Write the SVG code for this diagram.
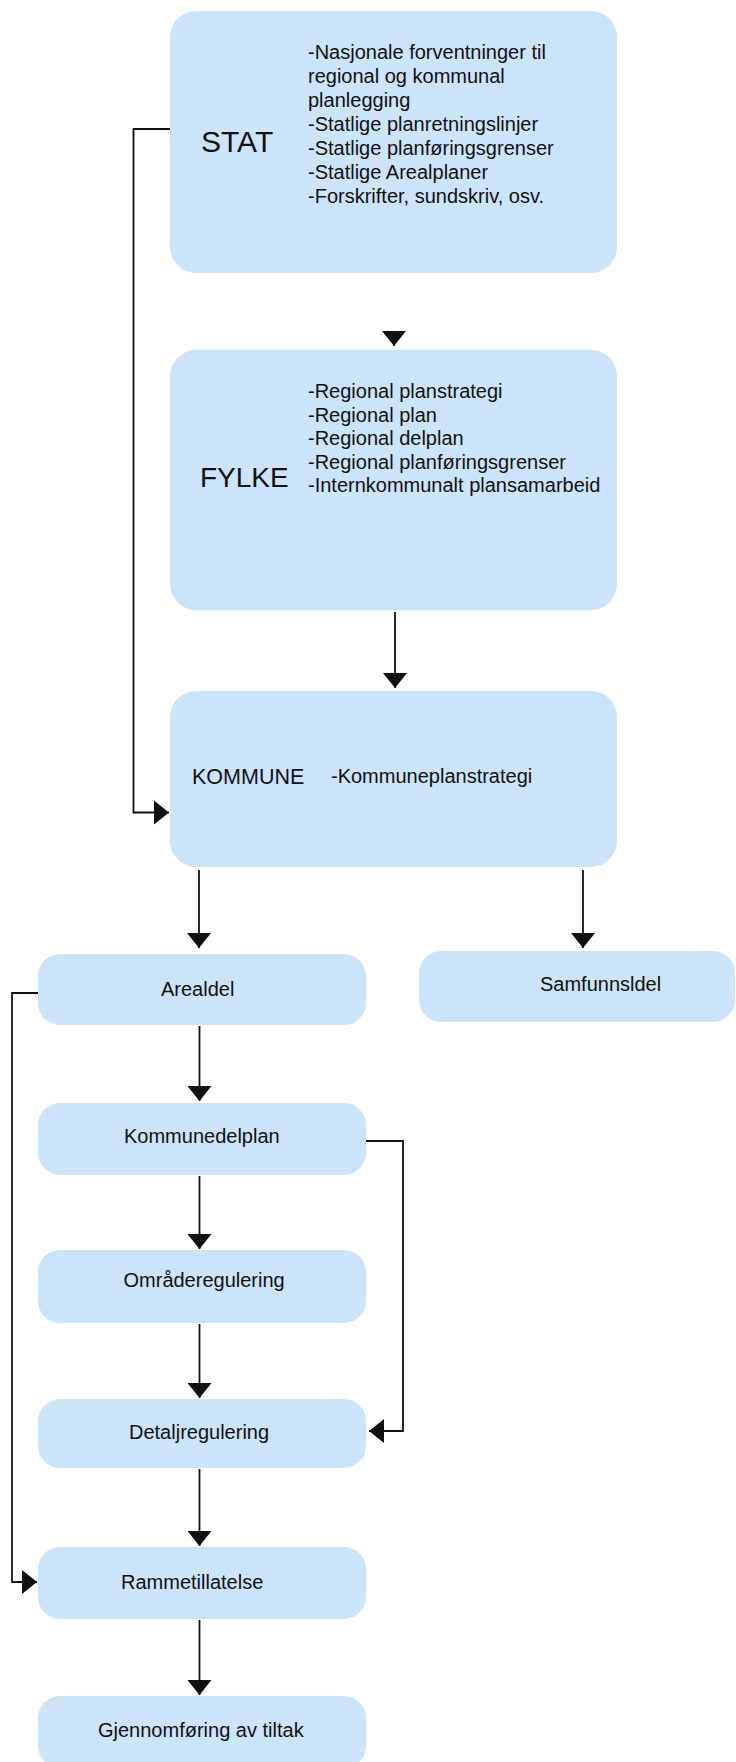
<svg xmlns="http://www.w3.org/2000/svg" width="736" height="1762" viewBox="0 0 736 1762">
<style>
.box{fill:#cce4fa;}
.t{font-family:"Liberation Sans",Arial,sans-serif;fill:#111;}
.b{font-size:20px;}
.c{fill:none;stroke:#111;stroke-width:1.8;}
</style>
<defs>
<marker id="ah" markerUnits="userSpaceOnUse" markerWidth="16" markerHeight="24" viewBox="0 0 16 24" refX="15" refY="12" orient="auto">
<path d="M0,0 L15,12 L0,24 Z" fill="#111"/>
</marker>
</defs>
<rect width="736" height="1762" fill="#fff"/>
<g id="connectors">
<path class="c" d="M394,332 L394,346" marker-end="url(#ah)"/>
<path class="c" d="M395,612 L395,688" marker-end="url(#ah)"/>
<path class="c" d="M170,129 H133.5 V812.5 H169" marker-end="url(#ah)"/>
<path class="c" d="M199,870 L199,948" marker-end="url(#ah)"/>
<path class="c" d="M583,870 L583,948" marker-end="url(#ah)"/>
<path class="c" d="M199.5,1026 L199.5,1101" marker-end="url(#ah)"/>
<path class="c" d="M366,1141 H403 V1431 H369" marker-end="url(#ah)"/>
<path class="c" d="M199.5,1176 L199.5,1249" marker-end="url(#ah)"/>
<path class="c" d="M199.5,1324 L199.5,1398" marker-end="url(#ah)"/>
<path class="c" d="M199.5,1469 L199.5,1546" marker-end="url(#ah)"/>
<path class="c" d="M38,993 H12 V1582 H37" marker-end="url(#ah)"/>
<path class="c" d="M199.5,1620 L199.5,1695" marker-end="url(#ah)"/>
</g>
<g id="stat">
<rect class="box" x="170" y="11" width="447" height="262" rx="26"/>
<text class="t" x="201" y="152" font-size="30">STAT</text>
<text class="t b" x="308" y="58.5">-Nasjonale forventninger til</text>
<text class="t b" x="308" y="82.5">regional og kommunal</text>
<text class="t b" x="308" y="106.5">planlegging</text>
<text class="t b" x="308" y="130.5">-Statlige planretningslinjer</text>
<text class="t b" x="308" y="154.5">-Statlige planføringsgrenser</text>
<text class="t b" x="308" y="178.5">-Statlige Arealplaner</text>
<text class="t b" x="308" y="202.5">-Forskrifter, sundskriv, osv.</text>
</g>
<g id="fylke">
<rect class="box" x="170" y="350" width="447" height="260" rx="26"/>
<text class="t" x="200" y="487" font-size="28">FYLKE</text>
<text class="t b" x="308" y="398">-Regional planstrategi</text>
<text class="t b" x="308" y="421.5">-Regional plan</text>
<text class="t b" x="308" y="445">-Regional delplan</text>
<text class="t b" x="308" y="468.5">-Regional planføringsgrenser</text>
<text class="t b" x="308" y="492">-Internkommunalt plansamarbeid</text>
</g>
<g id="kommune">
<rect class="box" x="170" y="691" width="447" height="176" rx="26"/>
<text class="t" x="192" y="784" font-size="21.5">KOMMUNE</text>
<text class="t b" x="331" y="783">-Kommuneplanstrategi</text>
</g>
<g id="arealdel">
<rect class="box" x="38" y="954" width="328" height="71" rx="22"/>
<text class="t b" x="161" y="996">Arealdel</text>
</g>
<g id="samfunnsdel">
<rect class="box" x="419" y="951" width="316" height="71" rx="22"/>
<text class="t b" x="540" y="991">Samfunnsldel</text>
</g>
<g id="kommunedelplan">
<rect class="box" x="38" y="1103" width="328" height="72" rx="22"/>
<text class="t b" x="124" y="1143">Kommunedelplan</text>
</g>
<g id="omraderegulering">
<rect class="box" x="38" y="1250" width="328" height="73" rx="22"/>
<text class="t b" x="123.5" y="1287">Områderegulering</text>
</g>
<g id="detaljregulering">
<rect class="box" x="38" y="1399" width="328" height="69" rx="22"/>
<text class="t b" x="129" y="1439">Detaljregulering</text>
</g>
<g id="rammetillatelse">
<rect class="box" x="38" y="1547" width="328" height="72" rx="22"/>
<text class="t b" x="121" y="1589">Rammetillatelse</text>
</g>
<g id="gjennomforing">
<rect class="box" x="38" y="1696" width="328" height="72" rx="22"/>
<text class="t b" x="98" y="1737">Gjennomføring av tiltak</text>
</g>
</svg>
